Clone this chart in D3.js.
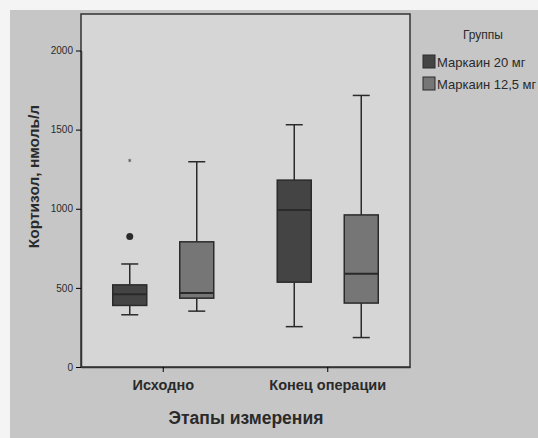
<!DOCTYPE html>
<html>
<head>
<meta charset="utf-8">
<script src="https://cdn.jsdelivr.net/npm/d3@7"></script>
<style>
  body { margin: 0; background: #f4f4f4; }
  text { font-family: "Liberation Sans", Arial, sans-serif; fill: #2a2a2a; }
</style>
</head>
<body>
<div id="chart"></div>
<script>
// data
var stages = ["Исходно", "Конец операции"];
var groups = ["Маркаин 20 мг", "Маркаин 12,5 мг"];
var groupColors = ["#444444", "#767676"];
// [lower whisker, Q1, median, Q3, upper whisker] per stage, per group
var stats20 = [[330, 389, 460, 519, 651], [255, 536, 992, 1181, 1531]];
var stats125 = [[353, 435, 468, 791, 1297], [186, 404, 590, 961, 1716]];
var outliers = [{stage: 0, group: 0, value: 825, kind: "o"}, {stage: 0, group: 0, value: 1305, kind: "*"}];
var yTicks = [0, 500, 1000, 1500, 2000];

var W = 538, H = 438;
var margin = {top: 14, right: 128, bottom: 71, left: 81};

var svg = d3.select("#chart").append("svg")
    .attr("width", W).attr("height", H);

// outer panel
svg.append("rect").attr("x", 10).attr("y", 10).attr("width", W - 10).attr("height", H - 10)
    .attr("fill", "#c6c6c6");

var x = d3.scaleBand().domain(stages).range([margin.left, W - margin.right]);
var y = d3.scaleLinear().domain([0, 2000]).range([H - margin.bottom, 50.5]);
var off = d3.scaleBand().domain(groups).range([-67, 67]).paddingInner(0).paddingOuter(0);

// plot area
svg.append("rect")
    .attr("x", margin.left).attr("y", margin.top)
    .attr("width", W - margin.right - margin.left)
    .attr("height", H - margin.bottom - margin.top)
    .attr("fill", "#d6d6d6").attr("stroke", "#333").attr("stroke-width", 1.5);

// axes
var yAxis = svg.append("g")
    .attr("transform", "translate(" + margin.left + ",0)")
    .call(d3.axisLeft(y).tickValues(yTicks).tickFormat(d3.format("d")).tickSize(5).tickSizeOuter(0));
yAxis.select(".domain").attr("stroke", "#333").attr("stroke-width", 1.5);
yAxis.selectAll("text").style("font-size", "10px")
    .style("font-family", "'Liberation Sans Narrow', 'Liberation Sans', sans-serif").attr("fill", "#444");

var xAxis = svg.append("g")
    .attr("transform", "translate(0," + (H - margin.bottom) + ")")
    .call(d3.axisBottom(x).tickSize(5).tickSizeOuter(0).tickPadding(8));
xAxis.select(".domain").attr("stroke", "#333").attr("stroke-width", 1.5);
xAxis.selectAll("text").style("font-size", "14.5px").style("font-weight", "bold").attr("fill", "#333");

// boxes
var boxW = 34;
[stats20, stats125].forEach(function(st, gi) {
  st.forEach(function(s, si) {
    var cx = x(stages[si]) + x.bandwidth() / 2 + off(groups[gi]) + off.bandwidth() / 2;
    var g = svg.append("g").attr("stroke", "#2a2a2a").attr("stroke-width", 1.5);
    g.append("line").attr("x1", cx).attr("x2", cx).attr("y1", y(s[0])).attr("y2", y(s[1]));
    g.append("line").attr("x1", cx).attr("x2", cx).attr("y1", y(s[3])).attr("y2", y(s[4]));
    g.append("line").attr("x1", cx - boxW / 4).attr("x2", cx + boxW / 4).attr("y1", y(s[0])).attr("y2", y(s[0]));
    g.append("line").attr("x1", cx - boxW / 4).attr("x2", cx + boxW / 4).attr("y1", y(s[4])).attr("y2", y(s[4]));
    g.append("rect").attr("x", cx - boxW / 2).attr("width", boxW)
        .attr("y", y(s[3])).attr("height", y(s[1]) - y(s[3]))
        .attr("fill", groupColors[gi]);
    g.append("line").attr("x1", cx - boxW / 2).attr("x2", cx + boxW / 2)
        .attr("y1", y(s[2])).attr("y2", y(s[2])).attr("stroke-width", 2);
  });
});

// outliers
outliers.forEach(function(o) {
  var cx = x(stages[o.stage]) + x.bandwidth() / 2 + off(groups[o.group]) + off.bandwidth() / 2;
  if (o.kind === "o") {
    svg.append("circle").attr("cx", cx).attr("cy", y(o.value)).attr("r", 3.5).attr("fill", "#2a2a2a");
  } else {
    svg.append("path").attr("transform", "translate(" + cx + "," + y(o.value) + ")")
        .attr("d", d3.symbol(d3.symbolAsterisk, 8)).attr("fill", "none")
        .attr("stroke", "#555").attr("stroke-width", 0.8);
  }
});

// axis titles
svg.append("text")
    .attr("transform", "translate(39,176.5) rotate(-90)")
    .attr("text-anchor", "middle").style("font-size", "15.5px").style("font-weight", "bold")
    .text("Кортизол, нмоль/л");
svg.append("text")
    .attr("x", 246).attr("y", 424)
    .attr("text-anchor", "middle").style("font-size", "17.5px").style("font-weight", "bold")
    .text("Этапы измерения");

// legend
var legend = svg.append("g").attr("transform", "translate(423,0)");
legend.append("text").attr("x", 60).attr("y", 39).attr("text-anchor", "middle")
    .style("font-size", "12px").attr("fill", "#444").text("Группы");
groups.forEach(function(gname, i) {
  legend.append("rect").attr("x", 0).attr("y", 55 + i * 22).attr("width", 12).attr("height", 13)
      .attr("fill", groupColors[i]).attr("stroke", "#2a2a2a");
  legend.append("text").attr("x", 14).attr("y", 66.5 + i * 22)
      .style("font-size", "13px").attr("fill", "#333").text(gname);
});
</script>
</body>
</html>
